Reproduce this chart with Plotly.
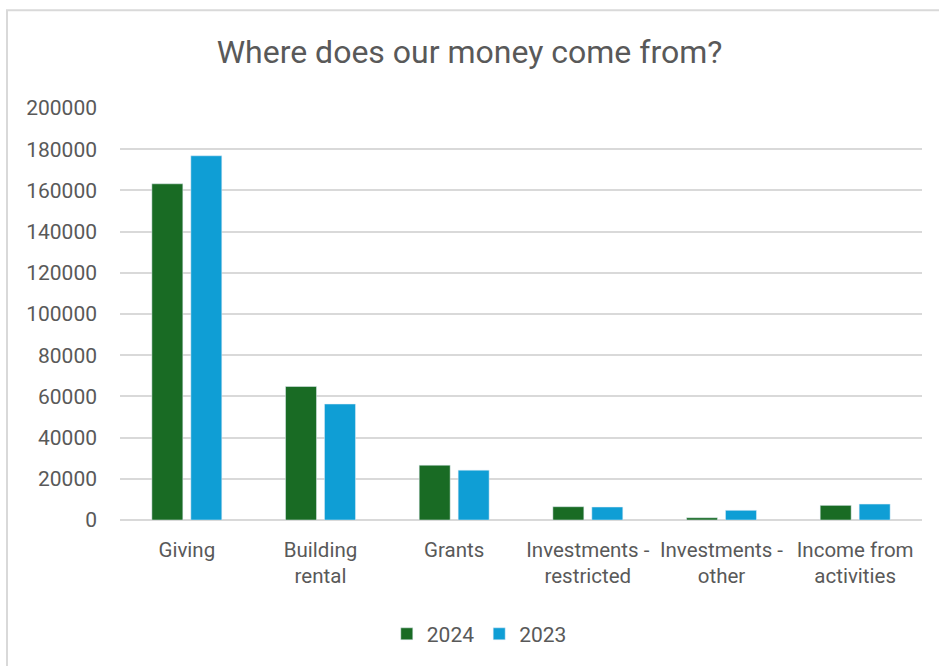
import plotly.graph_objects as go

categories = ["Giving", "Building<br>rental", "Grants", "Investments -<br>restricted",
              "Investments -<br>other", "Income from<br>activities"]
values_2024 = [163200, 64800, 26600, 6450, 1100, 7100]
values_2023 = [176800, 56300, 24200, 6300, 4700, 7750]
y_ticks = [0, 20000, 40000, 60000, 80000, 100000, 120000, 140000, 160000, 180000, 200000]

text_color = "#595959"
grid_color = "#d9d9d9"
font_family = "Aptos, Roboto, Liberation Sans, Arial, sans-serif"

fig = go.Figure()
fig.add_trace(go.Bar(name="2024", x=categories, y=values_2024, marker_color="#196B24"))
fig.add_trace(go.Bar(name="2023", x=categories, y=values_2023, marker_color="#0F9ED5"))

fig.update_layout(
    width=939, height=666,
    margin=dict(l=120, r=17, t=108, b=145),
    paper_bgcolor="white", plot_bgcolor="white",
    barmode="group", bargap=0.417, bargroupgap=0.205,
    font=dict(family=font_family, color=text_color, size=20),
    title=dict(text="Where does our money come from?", x=0.5, xanchor="center",
               y=1 - 52 / 666, yanchor="middle",
               font=dict(size=32, color=text_color, family=font_family)),
    legend=dict(orientation="h", x=0.448, xanchor="center", y=-0.274, yanchor="middle",
                font=dict(size=21, color=text_color), itemwidth=30,
                traceorder="normal"),
    showlegend=True,
)
fig.update_yaxes(range=[0, 200000], tickvals=y_ticks, ticktext=[str(v) for v in y_ticks],
                 showgrid=True, gridcolor=grid_color, gridwidth=1.5,
                 zeroline=True, zerolinecolor=grid_color, zerolinewidth=1.5,
                 showline=False, ticks="", ticklabelstandoff=22,
                 tickfont=dict(size=21, color=text_color))
fig.update_xaxes(showgrid=False, showline=False, ticks="", ticklabelstandoff=15,
                 tickfont=dict(size=20.5, color=text_color))

# chart frame
fig.add_shape(type="rect", xref="paper", yref="paper",
              x0=(7 - 120) / 802, x1=(945 - 120) / 802,
              y0=(521 - 672) / 413, y1=(521 - 10) / 413,
              line=dict(color=grid_color, width=2), fillcolor="rgba(0,0,0,0)", layer="below")

fig.write_html("out.html")
